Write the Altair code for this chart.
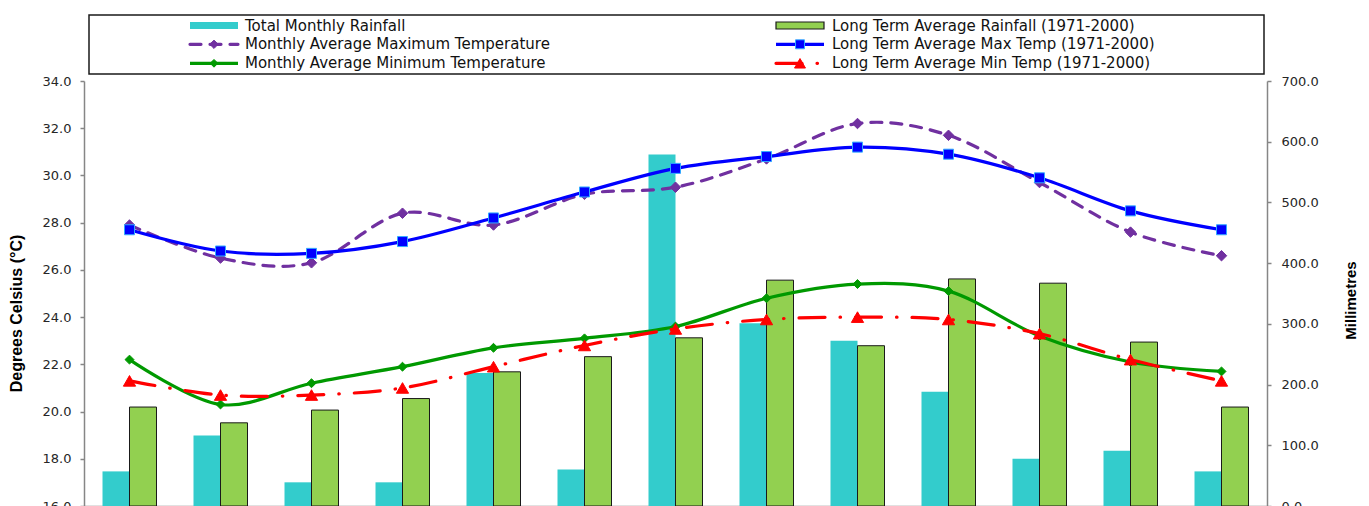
import altair as alt
import pandas as pd

# Thirteen monthly periods, January through the following January
months = ["Jan", "Feb", "Mar", "Apr", "May", "Jun", "Jul", "Aug", "Sep", "Oct", "Nov", "Dec", "Jan"]
period = list(range(1, 14))

# Rainfall (mm)
total_rain = [57, 116, 39, 39, 219, 60, 579, 301, 272, 188, 78, 91, 57]
lt_rain = [163, 137, 158, 177, 221, 246, 277, 372, 264, 374, 367, 270, 163]

# Temperatures (deg C)
max_temp = [27.9, 26.5, 26.3, 28.4, 27.9, 29.2, 29.5, 30.7, 32.2, 31.7, 29.7, 27.6, 26.6]
lt_max_temp = [27.7, 26.8, 26.7, 27.2, 28.2, 29.3, 30.3, 30.8, 31.2, 30.9, 29.9, 28.5, 27.7]
min_temp = [22.2, 20.3, 21.2, 21.9, 22.7, 23.1, 23.6, 24.8, 25.4, 25.1, 23.2, 22.1, 21.7]
lt_min_temp = [21.3, 20.7, 20.7, 21.0, 21.9, 22.8, 23.5, 23.9, 24.0, 23.9, 23.3, 22.2, 21.3]

temp_ticks = [16, 18, 20, 22, 24, 26, 28, 30, 32, 34]
rain_ticks = [0, 100, 200, 300, 400, 500, 600, 700]

RAIN_NAMES = ["Total Monthly Rainfall", "Long Term Average Rainfall (1971-2000)"]
TEMP_NAMES = [
    "Monthly Average Maximum Temperature",
    "Long Term Average Max Temp (1971-2000)",
    "Monthly Average Minimum Temperature",
    "Long Term Average Min Temp (1971-2000)",
]

# ---- layout / style ----
PLOT_W, PLOT_H = 1183, 425
PADDING = {"left": 84, "top": 81, "right": 102, "bottom": 0}
AXIS_GRAY = "#868686"
LABEL_FONT = "DejaVu Sans"
TITLE_FONT = "Liberation Sans Narrow, Arial Narrow, Liberation Sans"
CYAN, LGREEN = "#33CCCC", "#92D050"
PURPLE, BLUE, GREEN, RED = "#7030A0", "#0000FF", "#009900", "#FF0000"
PURPLE_DASH = [11, 9]
RED_DASH = [26, 15, 0.5, 15]

rain_df = pd.DataFrame({
    "period": period * 2,
    "month": months * 2,
    "series": [RAIN_NAMES[0]] * 13 + [RAIN_NAMES[1]] * 13,
    "mm": total_rain + lt_rain,
})
temp_df = pd.DataFrame({
    "period": period * 4,
    "month": months * 4,
    "series": sum([[n] * 13 for n in TEMP_NAMES], []),
    "degC": max_temp + lt_max_temp + min_temp + lt_min_temp,
})

x_enc = alt.X(
    "period:O",
    sort=period,
    scale=alt.Scale(type="band", paddingInner=37 / 91, paddingOuter=37 / 182),
    axis=alt.Axis(
        title=None,
        labels=False,
        domainColor=AXIS_GRAY,
        domainWidth=1.5,
        ticks=False,
    ),
)

rain_axis = alt.Axis(
    orient="right",
    values=rain_ticks,
    format=".1f",
    grid=False,
    domainColor=AXIS_GRAY,
    domainWidth=1.5,
    tickColor=AXIS_GRAY,
    tickWidth=1.5,
    tickSize=4,
    labelFont=LABEL_FONT,
    labelFontSize=13,
    labelColor="#262626",
    labelPadding=10,
    title="Millimetres",
    titleFont=TITLE_FONT,
    titleFontSize=15,
    titleFontWeight="bold",
    titleColor="#000000",
    titleAngle=270,
    titleAlign="center",
    titleBaseline="middle",
    titleX=83,
    titleY=219,
)

temp_axis = alt.Axis(
    orient="left",
    values=temp_ticks,
    format=".1f",
    grid=False,
    domainColor=AXIS_GRAY,
    domainWidth=1.5,
    tickColor=AXIS_GRAY,
    tickWidth=1.5,
    tickSize=4,
    labelFont=LABEL_FONT,
    labelFontSize=13,
    labelColor="#262626",
    labelPadding=9,
    title="Degrees Celsius  (°C)",
    titleFont=TITLE_FONT,
    titleFontSize=16,
    titleFontWeight="bold",
    titleColor="#000000",
    titleAngle=270,
    titleAlign="center",
    titleBaseline="middle",
    titleX=-68,
    titleY=232,
)

# ---- rainfall bars (right axis) ----
bars = alt.Chart(rain_df).mark_bar(stroke="#1a1a1a").encode(
    x=x_enc,
    xOffset=alt.XOffset("series:N", sort=RAIN_NAMES,
                        scale=alt.Scale(domain=RAIN_NAMES, paddingInner=0, paddingOuter=0)),
    y=alt.Y("mm:Q", scale=alt.Scale(domain=[0, 700], nice=False), axis=rain_axis),
    color=alt.Color("series:N", scale=alt.Scale(domain=RAIN_NAMES, range=[CYAN, LGREEN]), legend=None),
    strokeWidth=alt.condition(alt.datum.series == RAIN_NAMES[1], alt.value(1), alt.value(0)),
)

# ---- temperature lines (left axis) ----
y_temp = alt.Y("degC:Q", scale=alt.Scale(domain=[16, 34], nice=False, zero=False), axis=temp_axis)


def temp_series(name, color, dash, shape, size, fill, edge):
    base = alt.Chart(temp_df).transform_filter(alt.datum.series == name)
    line_kw = dict(color=color, strokeWidth=3.2, interpolate="cardinal")
    if dash:
        line_kw.update(strokeDash=dash, strokeCap="round")
    line = base.mark_line(**line_kw).encode(x=x_enc, y=y_temp)
    pts = base.mark_point(shape=shape, size=size, filled=True, fill=fill,
                          stroke=edge, strokeWidth=1, opacity=1).encode(x=x_enc, y=y_temp)
    return line + pts


temps = alt.layer(
    temp_series(TEMP_NAMES[0], PURPLE, PURPLE_DASH, "diamond", 110, PURPLE, PURPLE),
    temp_series(TEMP_NAMES[1], BLUE, None, "square", 100, BLUE, "#33AAFF"),
    temp_series(TEMP_NAMES[2], GREEN, None, "diamond", 80, GREEN, GREEN),
    temp_series(TEMP_NAMES[3], RED, RED_DASH, "triangle-up", 150, RED, RED),
)

# ---- legend block above the plot ----
one = pd.DataFrame({"k": [0]})
ROW_Y = [-55.5, -36.7, -17.7]
SYM_X = [106, 692]
SYM_W = 48
TEXT_X = [161, 748]


def leg_text(col, row, label):
    return alt.Chart(one).mark_text(
        align="left", baseline="middle", font=LABEL_FONT, fontSize=15, color="#111111"
    ).encode(x=alt.value(TEXT_X[col]), y=alt.value(ROW_Y[row]), text=alt.value(label))


def leg_rect(col, row, fill, edge_width):
    return alt.Chart(one).mark_rect(fill=fill, stroke="#1a1a1a", strokeWidth=edge_width).encode(
        x=alt.value(SYM_X[col]), x2=alt.value(SYM_X[col] + SYM_W),
        y=alt.value(ROW_Y[row] - 3.5), y2=alt.value(ROW_Y[row] + 3.5),
    )


def leg_line(col, row, color, dash, shape, size, fill, edge):
    kw = dict(color=color, strokeWidth=3.2)
    if dash:
        kw.update(strokeDash=dash, strokeCap="round")
    rule = alt.Chart(one).mark_rule(**kw).encode(
        x=alt.value(SYM_X[col]), x2=alt.value(SYM_X[col] + SYM_W), y=alt.value(ROW_Y[row])
    )
    pt = alt.Chart(one).mark_point(shape=shape, size=size, filled=True, fill=fill,
                                   stroke=edge, strokeWidth=1, opacity=1).encode(
        x=alt.value(SYM_X[col] + SYM_W / 2), y=alt.value(ROW_Y[row])
    )
    return rule + pt


legend_box = alt.Chart(one).mark_rect(fill="transparent", stroke="#1a1a1a", strokeWidth=1.5).encode(
    x=alt.value(5), x2=alt.value(1180), y=alt.value(-66), y2=alt.value(-7)
)

legend = alt.layer(
    legend_box,
    leg_rect(0, 0, CYAN, 0),
    leg_text(0, 0, RAIN_NAMES[0]),
    leg_line(0, 1, PURPLE, PURPLE_DASH, "diamond", 70, PURPLE, PURPLE),
    leg_text(0, 1, TEMP_NAMES[0]),
    leg_line(0, 2, GREEN, None, "diamond", 60, GREEN, GREEN),
    leg_text(0, 2, TEMP_NAMES[2]),
    leg_rect(1, 0, LGREEN, 1.2),
    leg_text(1, 0, RAIN_NAMES[1]),
    leg_line(1, 1, BLUE, None, "square", 80, BLUE, "#33AAFF"),
    leg_text(1, 1, TEMP_NAMES[1]),
    leg_line(1, 2, RED, RED_DASH, "triangle-up", 120, RED, RED),
    leg_text(1, 2, TEMP_NAMES[3]),
)

chart = (
    alt.layer(bars, temps, legend)
    .resolve_scale(y="independent")
    .properties(
        width=PLOT_W,
        height=PLOT_H,
        padding=PADDING,
        autosize=alt.AutoSizeParams(type="none"),
        background="white",
    )
    .configure_view(strokeWidth=0)
)

chart.save("out.html", embed_options={"renderer": "svg", "actions": False})
